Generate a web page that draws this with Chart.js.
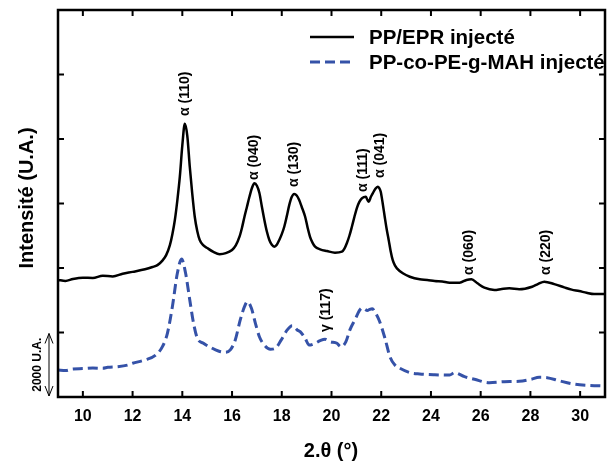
<!DOCTYPE html>
<html>
<head>
<meta charset="utf-8">
<script src="https://cdn.jsdelivr.net/npm/chart.js@4/dist/chart.umd.min.js"></script>
<style>
html,body{margin:0;padding:0;background:#fff;}
#wrap{width:607px;height:463px;position:relative;}
</style>
</head>
<body>
<div id="wrap"><canvas id="c" width="607" height="463"></canvas></div>
<script>
// ---- data ----
const seriesNames = ['PP/EPR injecté', 'PP-co-PE-g-MAH injecté'];

const eprX = [9.0,9.3,9.6,10.0,10.4,10.8,11.2,11.6,12.0,12.5,12.8,13.0,13.2,13.35,13.5,13.6,13.7,13.8,13.9,14.0,14.1,14.2,14.3,14.4,14.5,14.6,14.7,14.85,15.0,15.25,15.5,15.75,16.0,16.15,16.3,16.4,16.5,16.6,16.7,16.8,16.9,17.0,17.1,17.2,17.3,17.4,17.5,17.6,17.7,17.8,17.9,18.0,18.1,18.2,18.3,18.4,18.5,18.6,18.7,18.8,18.94,19.04,19.14,19.24,19.34,19.54,19.82,20.14,20.42,20.52,20.62,20.72,20.82,20.92,21.02,21.12,21.22,21.3,21.38,21.44,21.5,21.58,21.66,21.76,21.86,21.92,21.98,22.06,22.14,22.22,22.3,22.38,22.46,22.55,22.63,22.87,23.15,23.55,23.85,24.15,24.45,24.75,25.15,25.43,25.63,25.87,26.15,26.55,26.85,27.15,27.55,28.07,28.3,28.56,28.96,29.36,29.66,29.96,30.26,30.56,31.0];
const eprY = [3630,3600,3660,3700,3690,3760,3740,3820,3880,3960,4030,4090,4230,4400,4710,5050,5490,6100,6830,7800,8470,8100,7140,6300,5590,5150,4870,4700,4620,4500,4430,4460,4560,4700,4970,5250,5590,5900,6210,6480,6625,6550,6325,5900,5490,5130,4870,4720,4660,4720,4870,5050,5280,5600,5950,6200,6295,6250,6110,5900,5590,5250,4960,4780,4660,4580,4525,4475,4505,4600,4775,5000,5280,5580,5860,6050,6160,6200,6210,6120,6055,6200,6315,6450,6520,6480,6365,6000,5590,5200,4870,4520,4250,4080,3990,3835,3730,3650,3630,3595,3580,3545,3545,3630,3650,3525,3390,3320,3350,3370,3340,3420,3500,3575,3500,3400,3330,3285,3230,3190,3190];

const mahX = [9.0,9.3,9.6,10.0,10.4,10.8,11.0,11.4,11.8,12.0,12.5,12.93,13.2,13.4,13.6,13.8,13.97,14.13,14.3,14.45,14.6,14.85,15.13,15.45,15.73,15.93,16.13,16.33,16.5,16.62,16.78,16.94,17.1,17.3,17.54,17.74,17.98,18.22,18.42,18.62,18.74,18.94,19.1,19.34,19.54,19.74,19.94,20.22,20.38,20.58,20.74,20.94,21.14,21.24,21.34,21.44,21.54,21.64,21.74,21.94,22.15,22.35,22.55,22.75,23.15,23.55,24.15,24.75,24.95,25.35,25.75,26.35,26.95,27.55,28.03,28.35,28.67,29.15,29.75,30.35,31.0];
const mahY = [840,820,870,880,900,890,920,940,990,1045,1150,1300,1560,1975,2800,3835,4280,3845,3010,2295,1830,1665,1540,1425,1385,1460,1770,2390,2800,2955,2750,2285,1870,1610,1480,1510,1770,2080,2210,2080,2025,1820,1610,1665,1745,1790,1715,1665,1560,1715,2080,2390,2700,2760,2720,2680,2720,2740,2645,2335,1820,1250,990,890,755,715,690,680,755,630,550,445,475,485,550,610,600,505,400,360,340];

const xTicks = [10,12,14,16,18,20,22,24,26,28,30];
const yTicks = [2000,4000,6000,8000,10000];

const peakLabels = ['α (110)','α (040)','α (130)','α (111)','α (041)','α (060)','α (220)','γ (117)'];
const peakX      = [14.11, 16.88, 18.49, 21.27, 21.95, 25.53, 28.63, 19.78];
const peakY      = [8713, 6729, 6512, 6357, 6791, 3783, 3783, 2016];

const scaleBarLabel = '2000 U.A.';
const scaleBarFrom = 0, scaleBarTo = 2000;

const FONT = '"Liberation Sans", Arial, Helvetica, sans-serif';
const BLUE = '#3552a8';

const toPts = (xs, ys) => xs.map((x, i) => ({x: x, y: ys[i]}));

const decor = {
  id: 'decor',
  afterDraw(chart) {
    const ctx = chart.ctx, a = chart.chartArea;
    const xs = chart.scales.x, ys = chart.scales.y;
    ctx.save();
    // peak labels
    ctx.fillStyle = '#000';
    ctx.font = 'bold 14px ' + FONT;
    ctx.textAlign = 'left';
    ctx.textBaseline = 'middle';
    peakLabels.forEach((t, i) => {
      const px = xs.getPixelForValue(peakX[i]);
      const py = ys.getPixelForValue(peakY[i]);
      ctx.save();
      ctx.translate(px, py);
      ctx.rotate(-Math.PI / 2);
      ctx.fillText(t, 0, 0);
      ctx.restore();
    });
    // legend
    const ds = chart.data.datasets;
    const legY = [37, 62];
    ds.forEach((d, i) => {
      ctx.save();
      ctx.strokeStyle = d.borderColor;
      ctx.lineWidth = d.borderWidth;
      ctx.setLineDash(d.borderDash || []);
      ctx.beginPath();
      ctx.moveTo(310, legY[i]);
      ctx.lineTo(354, legY[i]);
      ctx.stroke();
      ctx.restore();
      ctx.fillStyle = '#000';
      ctx.font = 'bold 20.5px ' + FONT;
      ctx.textAlign = 'left';
      ctx.textBaseline = 'middle';
      ctx.fillText(d.label, 369, legY[i] + 1);
    });
    // frame
    ctx.strokeStyle = '#000';
    ctx.lineWidth = 2.5;
    ctx.setLineDash([]);
    ctx.strokeRect(a.left, a.top, a.right - a.left, a.bottom - a.top);
    // inward ticks
    ctx.lineWidth = 2;
    const tl = 6;
    ctx.beginPath();
    xTicks.forEach(v => {
      const px = xs.getPixelForValue(v);
      ctx.moveTo(px, a.bottom); ctx.lineTo(px, a.bottom - tl);
      ctx.moveTo(px, a.top); ctx.lineTo(px, a.top + tl);
    });
    yTicks.forEach(v => {
      const py = ys.getPixelForValue(v);
      ctx.moveTo(a.left, py); ctx.lineTo(a.left + tl, py);
      ctx.moveTo(a.right, py); ctx.lineTo(a.right - tl, py);
    });
    ctx.stroke();
    // y title
    ctx.save();
    ctx.translate(27, 198);
    ctx.rotate(-Math.PI / 2);
    ctx.font = 'bold 20px ' + FONT;
    ctx.textAlign = 'center';
    ctx.textBaseline = 'middle';
    ctx.fillText('Intensité (U.A.)', 0, 0);
    ctx.restore();
    // x title
    ctx.font = 'bold 20px ' + FONT;
    ctx.textAlign = 'center';
    ctx.textBaseline = 'middle';
    ctx.fillText('2.θ (°)', 331, 451);
    // scale bar
    const y0 = ys.getPixelForValue(scaleBarFrom) - 1;
    const y1 = ys.getPixelForValue(scaleBarTo) + 1;
    const bx = 49;
    ctx.lineWidth = 1;
    ctx.beginPath();
    ctx.moveTo(bx, y0); ctx.lineTo(bx, y1);
    ctx.moveTo(bx - 4, y1 + 10); ctx.lineTo(bx, y1); ctx.lineTo(bx + 4, y1 + 10);
    ctx.moveTo(bx - 4, y0 - 10); ctx.lineTo(bx, y0); ctx.lineTo(bx + 4, y0 - 10);
    ctx.stroke();
    ctx.save();
    ctx.translate(38, (y0 + y1) / 2);
    ctx.rotate(-Math.PI / 2);
    ctx.font = 'bold 12px ' + FONT;
    ctx.textAlign = 'center';
    ctx.textBaseline = 'middle';
    ctx.fillText(scaleBarLabel, 0, 0);
    ctx.restore();
    ctx.restore();
  }
};

new Chart(document.getElementById('c'), {
  type: 'line',
  data: {
    datasets: [
      { label: seriesNames[0], data: toPts(eprX, eprY), borderColor: '#000', borderWidth: 2.5,
        pointRadius: 0, cubicInterpolationMode: 'monotone', fill: false },
      { label: seriesNames[1], data: toPts(mahX, mahY), borderColor: BLUE, borderWidth: 3,
        borderDash: [10, 5], pointRadius: 0, cubicInterpolationMode: 'monotone', fill: false }
    ]
  },
  options: {
    responsive: false,
    animation: false,
    devicePixelRatio: 1,
    layout: { padding: { left: 58, right: 2, top: 10, bottom: 0 } },
    plugins: { legend: { display: false }, tooltip: { enabled: false } },
    scales: {
      x: {
        type: 'linear', min: 9, max: 31,
        afterBuildTicks: s => { s.ticks = xTicks.map(v => ({ value: v })); },
        afterFit: s => { s.height = 66; },
        grid: { display: false, drawTicks: false },
        border: { display: false },
        ticks: { color: '#000', font: { family: FONT, size: 16, weight: 'bold' }, padding: 10, maxRotation: 0, autoSkip: false }
      },
      y: {
        type: 'linear', min: 0, max: 12000, display: false
      }
    }
  },
  plugins: [decor]
});
</script>
</body>
</html>
